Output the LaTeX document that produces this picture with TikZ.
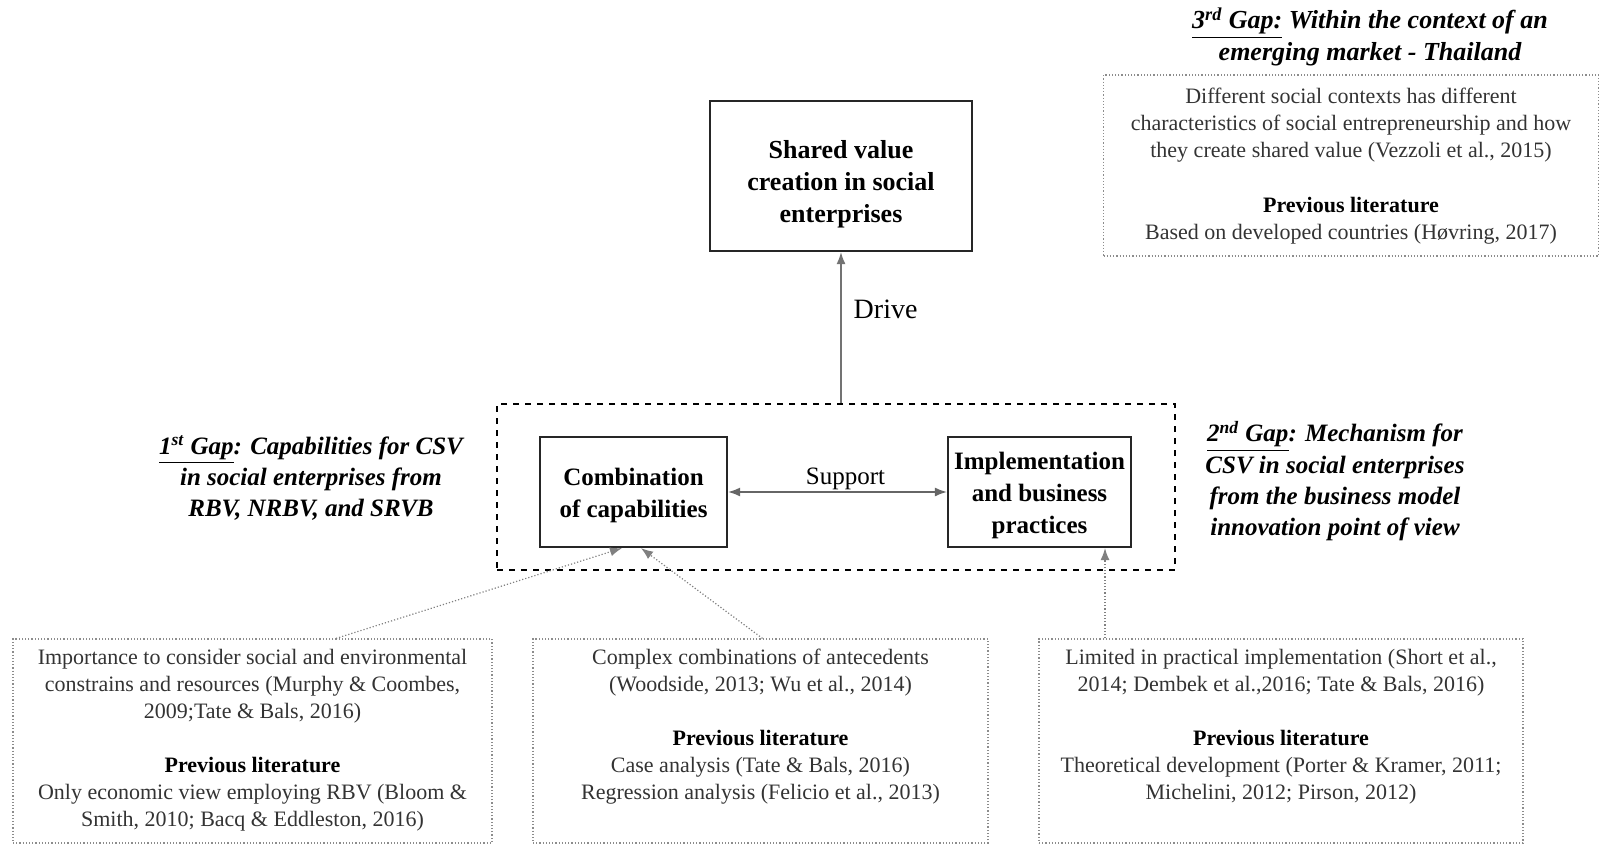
\documentclass[tikz,border=0pt]{standalone}
\usepackage{fontspec}
\setmainfont{Liberation Serif}
\usetikzlibrary{arrows.meta,positioning}

\begin{document}
\begin{tikzpicture}[x=0.5pt,y=-0.5pt,>={Latex[length=6pt,width=4.5pt]},
    every node/.style={align=center,inner sep=0pt},
    capbox/.style={draw=black!85,line width=1.1pt},
    captext/.style={font=\fontsize{12.5}{16}\selectfont\bfseries},
    litbox/.style={draw=black!45,densely dotted,line width=0.6pt,minimum height=102pt},
    littext/.style={text=black!80,font=\fontsize{11}{13.5}\selectfont},
    gaptext/.style={font=\fontsize{12.5}{15.6}\selectfont\bfseries\itshape},
    link/.style={->,densely dotted,draw=black!50,line width=0.6pt}]
  \useasboundingbox (0,0) rectangle (1600,845);

  % outcome and the two constructs
  \node[capbox,minimum width=131pt,minimum height=75pt] (svc) at (841,176) {};
  \node[captext,font=\fontsize{13}{16}\selectfont\bfseries] (svct) at ([yshift=-4pt]svc.center) {Shared value\\creation in social\\enterprises};
  \node[draw,dashed,line width=0.9pt,minimum width=339pt,minimum height=83pt] (mech) at (836,487) {};
  \node[capbox,minimum width=93.5pt,minimum height=55pt] (comb) at (633.5,492) {};
  \node[captext] (combt) at ([yshift=-1.5pt]comb.center) {Combination\\of capabilities};
  \node[capbox,minimum width=91.5pt,minimum height=55pt] (impl) at (1039.5,492) {};
  \node[captext] (implt) at ([yshift=-1.5pt]impl.center) {Implementation\\and business\\practices};

  \draw[->,draw=black!55,line width=0.7pt] (mech.north -| svc.south) -- node[pos=0.62,right=6pt,font=\fontsize{14}{16}\selectfont] (drive) {Drive} (svc.south);
  \draw[<->,draw=black!60,line width=0.7pt] (comb) -- node[above=0.5pt,xshift=4pt,font=\fontsize{12.5}{15}\selectfont] (supp) {Support} (impl);

  % research gaps
  \node[gaptext] (gap1) at (311,478) {\underline{1\textsuperscript{st} Gap}: Capabilities for CSV\\in social enterprises from\\RBV, NRBV, and SRVB};
  \node[gaptext] (gap2) at (1335,481) {\underline{2\textsuperscript{nd} Gap}: Mechanism for\\CSV in social enterprises\\from the business model\\innovation point of view};
  \node[gaptext,font=\fontsize{13}{16}\selectfont\bfseries\itshape] (gap3) at (1370,37) {\underline{3\textsuperscript{rd} Gap:} Within the context of an\\emerging market - Thailand};

  \node[litbox,minimum width=247.5pt,minimum height=90.5pt] (ctx) at (1351,165.5) {};
  \node[littext,below=6.5pt of ctx.north] (ctxt)
        {Different social contexts has different\\characteristics of social entrepreneurship and how\\they create shared value (Vezzoli et al., 2015)\\[14pt]
         \textcolor{black}{\textbf{Previous literature}}\\Based on developed countries (Høvring, 2017)};

  % previous literature
  \node[litbox,minimum width=239.5pt] (lit1) at (252.5,741) {};
  \node[litbox,minimum width=227.5pt] (lit2) at (760.5,741) {};
  \node[litbox,minimum width=242pt]   (lit3) at (1281,741) {};

  \node[littext,below=5pt of lit1.north] (lit1t)
        {Importance to consider social and environmental\\constrains and resources (Murphy \& Coombes,\\2009;Tate \& Bals, 2016)\\[13.5pt]
         \textcolor{black}{\textbf{Previous literature}}\\Only economic view employing RBV (Bloom \&\\Smith, 2010; Bacq \& Eddleston, 2016)};
  \node[littext,below=5pt of lit2.north] (lit2t)
        {Complex combinations of antecedents\\(Woodside, 2013; Wu et al., 2014)\\[13.5pt]
         \textcolor{black}{\textbf{Previous literature}}\\Case analysis (Tate \& Bals, 2016)\\Regression analysis (Felicio et al., 2013)};
  \node[littext,below=5pt of lit3.north] (lit3t)
        {Limited in practical implementation (Short et al.,\\2014; Dembek et al.,2016; Tate \& Bals, 2016)\\[13.5pt]
         \textcolor{black}{\textbf{Previous literature}}\\Theoretical development (Porter \& Kramer, 2011;\\Michelini, 2012; Pirson, 2012)};

  \coordinate (implin) at ([xshift=32.75pt]impl.south);
  \draw[link] ([xshift=41.75pt]lit1.north) -- ([xshift=-5.75pt]comb.south);
  \draw[link] ([xshift=1pt]lit2.north) -- ([xshift=3.75pt]comb.south);
  \draw[link] (implin |- lit3.north) -- (implin);
\end{tikzpicture}
\end{document}
